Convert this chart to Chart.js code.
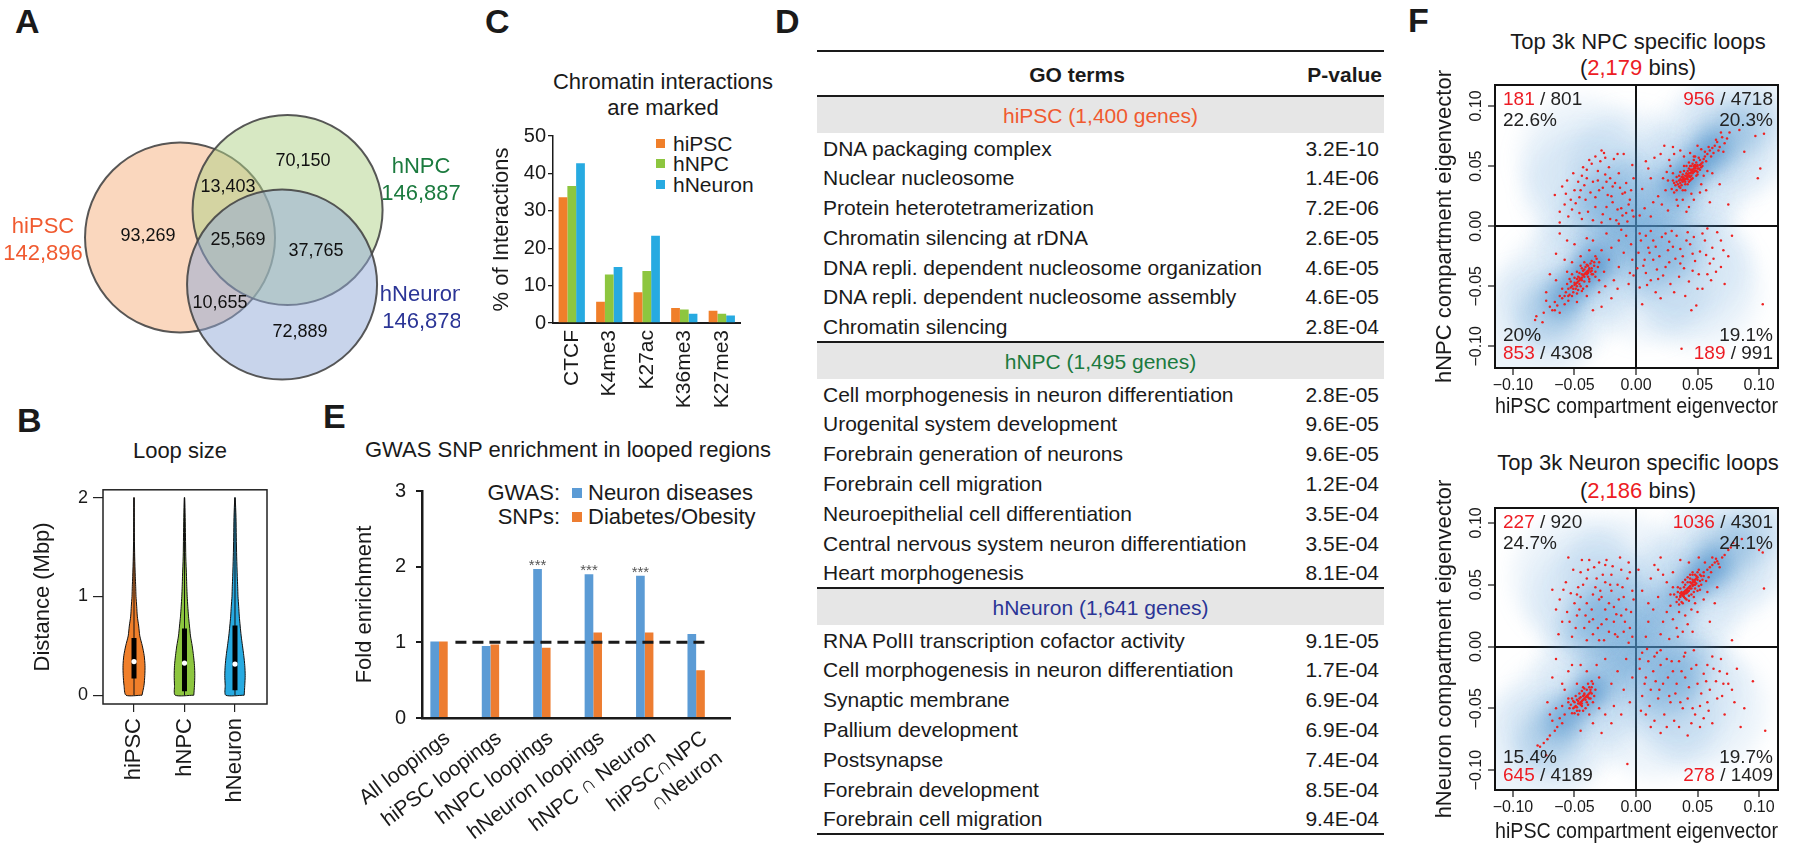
<!DOCTYPE html>
<html>
<head>
<meta charset="utf-8">
<script src="https://cdn.jsdelivr.net/npm/chart.js@4.4.1/dist/chart.umd.min.js"></script>
<style>
html,body{margin:0;padding:0;background:#fff;overflow:hidden;}
#root{position:relative;width:1800px;height:849px;font-family:'Liberation Sans',Arial,Helvetica,sans-serif;color:#1a1a1a;overflow:hidden;}
#root canvas{position:absolute;}
.tx{position:absolute;white-space:nowrap;}
.sq{position:absolute;}
#go{position:absolute;left:817px;top:50px;width:567px;font-size:21px;}
#go .rule{height:2px;background:#1a1a1a;}
#go .hdr{height:43px;position:relative;font-weight:bold;}
#go .hdr span{position:absolute;top:0;line-height:46px;}
#go .band{height:35.5px;line-height:37px;background:#e6e6e6;text-align:center;}
#go .row{height:29.8px;line-height:31px;display:flex;justify-content:space-between;padding:0 5px 0 6px;}
</style>
</head>
<body>
<div id="root"></div>
<script>
// ===================== DATA =====================
// A: Venn of chromatin loops
const vennSets = ['hiPSC', 'hNPC', 'hNeuron'];
const vennSetTotals = ['142,896', '146,887', '146,878'];
const vennRegionCounts = ['93,269', '70,150', '72,889', '13,403', '10,655', '37,765', '25,569'];
// regions: hiPSC only, hNPC only, hNeuron only, hiPSC&hNPC, hiPSC&hNeuron, hNPC&hNeuron, all three

// B: loop size violins (density read as half-width at each level)
const violinGroups = ['hiPSC', 'hNPC', 'hNeuron'];
const violinLevels = [0, 0.1, 0.2, 0.3, 0.4, 0.5, 0.6, 0.7, 0.8, 0.9, 1.0, 1.1, 1.2, 1.4, 1.6, 1.8, 2.0];
const densityHiPSC = [8, 10, 10.8, 11, 10.2, 8.3, 5.8, 4.7, 3.3, 2.7, 2.0, 1.7, 1.3, 0.7, 0.4, 0.3, 0.2];
const densityHNPC = [9.3, 10, 10.3, 10, 9, 7.7, 6, 5, 4, 3.3, 2.7, 2.3, 2.0, 1.3, 1.0, 0.7, 0.2];
const densityHNeuron = [9.2, 9.8, 10.2, 9.8, 8.8, 7.5, 6.2, 5.2, 4.3, 3.7, 3.0, 2.7, 2.3, 1.7, 1.3, 1.0, 0.2];
const loopQ1 = [0.17, 0.04, 0.05];
const loopMedian = [0.34, 0.325, 0.315];
const loopQ3 = [0.58, 0.675, 0.705];
const loopMin = [0, 0, 0];
const loopMax = [2, 2, 2];
const loopTicks = [0, 1, 2];

// C: % of interactions marked
const marks = ['CTCF', 'K4me3', 'K27ac', 'K36me3', 'K27me3'];
const pctHiPSC = [33.6, 5.7, 8.2, 4.0, 3.3];
const pctHNPC = [36.6, 13.0, 13.9, 3.6, 2.5];
const pctHNeuron = [42.7, 15.0, 23.3, 2.5, 2.0];

// D: GO terms
const goGroups = ['hiPSC (1,400 genes)', 'hNPC (1,495 genes)', 'hNeuron (1,641 genes)'];
const goTermsHiPSC = ['DNA packaging complex', 'Nuclear nucleosome', 'Protein heterotetramerization', 'Chromatin silencing at rDNA', 'DNA repli. dependent nucleosome organization', 'DNA repli. dependent nucleosome assembly', 'Chromatin silencing'];
const goPHiPSC = ['3.2E-10', '1.4E-06', '7.2E-06', '2.6E-05', '4.6E-05', '4.6E-05', '2.8E-04'];
const goTermsHNPC = ['Cell morphogenesis in neuron differentiation', 'Urogenital system development', 'Forebrain generation of neurons', 'Forebrain cell migration', 'Neuroepithelial cell differentiation', 'Central nervous system neuron differentiation', 'Heart morphogenesis'];
const goPHNPC = ['2.8E-05', '9.6E-05', '9.6E-05', '1.2E-04', '3.5E-04', '3.5E-04', '8.1E-04'];
const goTermsHNeuron = ['RNA PolII transcription cofactor activity', 'Cell morphogenesis in neuron differentiation', 'Synaptic membrane', 'Pallium development', 'Postsynapse', 'Forebrain development', 'Forebrain cell migration'];
const goPHNeuron = ['9.1E-05', '1.7E-04', '6.9E-04', '6.9E-04', '7.4E-04', '8.5E-04', '9.4E-04'];

// E: GWAS SNP fold enrichment
const loopSets = ['All loopings', 'hiPSC loopings', 'hNPC loopings', 'hNeuron loopings', 'hNPC \u2229 Neuron', ['hiPSC\u2229NPC', '\u2229Neuron']];
const neuronDiseaseFE = [1.01, 0.95, 1.97, 1.90, 1.88, 1.11];
const diabetesObesityFE = [1.01, 0.97, 0.93, 1.13, 1.13, 0.63];
const sigMarks = ['', '', '***', '***', '***', ''];
const baselineFE = 1;

// F: compartment eigenvectors (values x1000), quadrant order TL, TR, BL, BR
const eigenTicks = [-0.10, -0.05, 0, 0.05, 0.10];
const npcBins = '2,179';
const npcSpecific = [181, 956, 853, 189];
const npcTotal = [801, 4718, 4308, 991];
const npcPercent = ['22.6%', '20.3%', '20%', '19.1%'];
const neuronBins = '2,186';
const neuronSpecific = [227, 1036, 645, 278];
const neuronTotal = [920, 4301, 4189, 1409];
const neuronPercent = ['24.7%', '24.1%', '15.4%', '19.7%'];

const npcPoints = [
[36,36],[38,37],[40,39],[42,41],[44,44],[46,47],[48,49],[50,51],[43,48],[41,44],[39,40],[37,34],[35,38],[34,35],[37,41],[45,42],[47,45],[49,53],[51,48],[53,52],[44,50],[42,46],[40,35],[38,43],[46,52],[48,46],[52,55],[50,45],[36,32],[33,37],[39,46],[45,39],[47,55],[43,37],[41,50],[49,42],[54,50],[55,56],[35,42],[32,34],[44,47],[46,44],[42,43],[40,42],[48,51],[38,39],[50,48],[45,50],
[39,38],[41,40],[43,42],[45,45],[47,48],[49,50],[37,38],[36,39],[42,39],[44,41],[46,46],[48,48],[50,50],[52,51],[40,37],[38,41],[43,44],[45,47],[47,50],[41,42],
[33,30],[35,33],[31,36],[38,30],[42,35],[46,40],[50,43],[52,47],[54,53],[56,58],[51,57],[47,58],[43,53],[39,50],[36,45],[33,41],[30,38],[44,38],[49,46],[53,49],
[58,60],[60,63],[62,65],[64,67],[66,70],[68,66],[65,72],[70,74],[72,69],[61,58],[57,54],[59,66],[63,61],[67,63],[56,62],[53,64],[74,73],[76,78],[69,78],[71,62],
[30,44],[28,50],[26,38],[31,28],[33,22],[29,31],[25,45],[24,30],[22,40],[27,55],[20,60],[15,57],[12,40],[10,48],[18,25],[21,18],[26,13],[34,17],[38,22],[41,12],[45,27],[43,16],[47,22],[40,30],[53,35],[55,42],[58,46],[52,28],[57,30],[62,44],[48,58],[44,61],[39,58],[36,63],[31,60],[50,67],
[97,75],[104,77],[99,40],[101,48],[84,80],[75,18],[30,66],[23,67],[8,54],[5,31],[14,20],[7,15],[3,9],[12,8],[60,20],[68,35],[88,62],
[-28,63],[-26,61],[-57,27],[-66,26],[-43,49],[-35,37],[-24,37],[-14,44],[-19,33],[-11,27],[-49,19],[-41,22],[-33,24],[-46,11],[-24,16],[-8,11],[-16,5],[-35,5],[-51,44],[-38,55],[-22,49],[-3,51],[-5,22],[-30,30],[-40,40],[-20,25],[-12,15],[-27,10],[-55,8],[-62,3],[-45,30],[-8,36],[-2,8],[-18,56],[-31,46],[-10,60],
[-62,12],[-58,18],[-53,22],[-50,30],[-47,37],[-44,42],[-40,47],[-36,52],[-33,58],[-29,54],[-25,43],[-21,40],[-17,36],[-13,32],[-9,28],[-6,18],[-3,13],[-7,4],[-11,9],[-15,14],[-19,20],[-23,26],[-27,32],[-31,38],[-37,28],[-42,34],[-46,24],[-52,14],[-39,12],[-33,16],[-28,3],[-21,6],[-14,2],[-4,30],[-2,40],[-15,60],[-25,57],[-44,6],[-56,38],[-60,33],
[-40,-38],[-42,-40],[-38,-36],[-36,-35],[-44,-43],[-46,-45],[-48,-47],[-50,-49],[-52,-50],[-41,-34],[-39,-42],[-35,-40],[-43,-37],[-45,-50],[-47,-42],[-49,-52],[-53,-46],[-37,-31],[-34,-33],[-33,-38],[-44,-35],[-51,-55],[-55,-52],[-42,-46],[-46,-39],[-38,-44],[-36,-29],[-40,-32],[-48,-44],[-54,-57],[-57,-55],[-31,-34],[-39,-39],[-43,-52],[-50,-43],
[-41,-39],[-43,-41],[-45,-44],[-47,-46],[-49,-48],[-39,-37],[-37,-38],[-42,-42],[-44,-40],[-46,-48],[-48,-50],[-50,-47],[-40,-40],[-38,-35],[-44,-45],[-46,-43],[-51,-52],[-53,-51],[-42,-36],[-36,-37],
[-30,-30],[-32,-27],[-34,-30],[-36,-40],[-38,-46],[-40,-50],[-44,-54],[-48,-56],[-52,-58],[-55,-58],[-56,-48],[-54,-44],[-52,-40],[-48,-38],[-45,-33],[-42,-30],[-39,-33],[-33,-42],[-58,-58],[-47,-53],
[-60,-60],[-62,-58],[-64,-66],[-66,-63],[-68,-70],[-70,-67],[-73,-62],[-66,-70],[-81,-75],[-82,-78],[-75,-72],[-58,-65],[-62,-72],[-55,-62],[-60,-52],[-65,-45],[-65,-23],[-62,-6],[-56,-12],[-35,-70],[-28,-67],[-14,-34],[-5,-39],[-3,-28],[-24,-6],[-35,-12],[-14,-12],[-22,-28],[-28,-20],[-18,-45],[-25,-50],[-30,-55],[-20,-18],[-10,-22],[-8,-8],[-45,-25],[-52,-30],[-56,-38],[-58,-28],[-30,-45],[-26,-38],[-15,-52],[-2,-41],[-4,-15],[-12,-3],[-48,-63],[-40,-58],[-33,-25],[-38,-20],[-73,-55],[-76,-80],[-40,-10],[-50,-15],[-20,-60],[-6,-48],[-70,-40],
[3,-6],[14,-12],[24,-6],[30,-17],[41,-12],[46,-23],[54,-6],[14,-28],[24,-34],[8,-39],[35,-42],[46,-37],[60,-31],[69,-12],[3,-51],[19,-25],[38,-25],[10,-18],[28,-48],[50,-52],[54,-52],[49,-66],[103,-65],[37,-102],[69,-34],[62,-18],[33,-8],[7,-28],[18,-44],[42,-5],[58,-40],[26,-20],[12,-4],[75,-25],[5,-65],
[4,-12],[8,-8],[11,-22],[16,-17],[21,-9],[27,-13],[32,-27],[36,-19],[44,-15],[48,-29],[52,-21],[56,-12],[63,-27],[66,-5],[71,-20],[6,-33],[12,-45],[17,-36],[22,-41],[27,-30],[31,-55],[39,-35],[43,-46],[47,-9],[51,-40],[57,-24],[61,-45],[65,-38],[2,-22],[9,-49],[16,-55],[20,-60],[29,-4],[36,-31],[40,-58],[45,-70],[58,-2],[72,-48],[78,-8],[1,-35]
];
const neuronPoints = [
[38,43],[36,41],[40,45],[42,47],[44,49],[46,52],[48,54],[50,56],[52,53],[35,38],[37,36],[39,40],[41,43],[43,45],[45,47],[47,50],[49,51],[51,49],[53,57],[34,44],[36,47],[40,50],[42,52],[44,55],[46,58],[38,35],[48,47],[50,60],[54,54],[33,40],[39,48],[41,38],[45,42],[47,44],[52,46],[43,41],[46,49],[41,46],[49,57],[37,44],
[38,41],[40,43],[42,45],[44,47],[46,50],[48,52],[50,54],[36,40],[37,42],[39,44],[41,45],[43,48],[45,51],[47,53],[49,55],[39,42],[42,44],[44,52],[46,54],[48,50],
[33,36],[35,34],[31,42],[34,48],[38,52],[42,56],[46,60],[51,62],[55,57],[57,53],[53,50],[50,45],[47,40],[43,37],[40,39],[36,43],[44,58],[48,58],[40,54],[52,58],
[58,62],[60,64],[62,66],[64,68],[66,69],[65,71],[67,67],[70,72],[68,64],[72,74],[75,78],[77,80],[79,84],[82,82],[86,87],[62,72],[56,68],[55,60],[59,56],[61,60],
[30,48],[28,42],[25,52],[22,58],[18,62],[15,66],[12,55],[28,33],[25,28],[22,20],[30,22],[33,15],[35,28],[40,25],[42,18],[45,30],[48,35],[50,28],[55,38],[58,44],[18,40],[14,30],[10,20],[20,10],[27,6],[8,8],[34,8],[38,12],[46,12],[60,20],[64,35],[66,48],
[103,76],[104,47],[100,78],[78,5],[30,60],[20,72],[5,45],[2,62],[10,35],[51,72],[43,68],[36,70],
[-55,72],[-38,70],[-30,68],[-25,66],[-47,48],[-68,46],[-59,46],[-45,40],[-40,35],[-35,42],[-30,38],[-25,30],[-20,45],[-15,50],[-10,40],[-12,25],[-18,20],[-22,12],[-28,18],[-35,22],[-42,15],[-48,25],[-52,8],[-40,5],[-30,5],[-15,8],[-5,15],[-8,30],[-3,45],[-20,58],[-32,55],[-40,55],[-25,52],[-12,62],[-5,60],[-45,60],[-50,35],[-35,10],[-18,32],[-28,40],[-60,20],[-6,3],
[-65,30],[-62,38],[-57,52],[-53,43],[-49,15],[-46,30],[-43,50],[-39,62],[-36,30],[-33,48],[-31,15],[-27,58],[-24,22],[-22,35],[-19,65],[-17,10],[-14,38],[-11,48],[-9,20],[-7,55],[-4,28],[-2,38],[-6,68],[-13,72],[-21,50],[-26,5],[-34,64],[-38,20],[-44,70],[-51,62],[-56,28],[-63,10],[-41,25],[-29,45],[-16,26],[-3,8],[-10,12],[-48,42],[-54,20],[-24,70],
[-41,-41],[-39,-39],[-43,-43],[-45,-45],[-47,-46],[-49,-48],[-51,-50],[-37,-37],[-38,-42],[-42,-38],[-44,-48],[-46,-42],[-48,-52],[-50,-45],[-36,-33],[-40,-45],[-34,-40],[-44,-36],[-52,-54],[-53,-47],[-39,-30],[-36,-28],[-42,-34],[-47,-55],[-35,-45],
[-40,-40],[-42,-42],[-44,-44],[-46,-46],[-48,-49],[-38,-38],[-41,-43],[-43,-40],[-45,-47],[-47,-44],[-39,-41],[-42,-39],[-44,-46],[-50,-49],[-37,-35],
[-33,-35],[-35,-30],[-37,-42],[-39,-47],[-41,-50],[-43,-52],[-46,-52],[-50,-54],[-54,-50],[-55,-45],[-52,-42],[-49,-40],[-46,-38],[-43,-33],[-40,-35],[-36,-38],[-38,-33],[-45,-41],[-51,-44],[-48,-43],
[-58,-55],[-60,-62],[-62,-58],[-64,-65],[-66,-68],[-68,-60],[-70,-72],[-72,-75],[-75,-78],[-78,-81],[-80,-80],[-65,-50],[-70,-55],[-72,-45],[-68,-25],[-60,-30],[-55,-20],[-52,-15],[-65,-10],[-45,-15],[-40,-20],[-30,-25],[-25,-10],[-20,-30],[-15,-20],[-10,-35],[-5,-45],[-8,-10],[-30,-50],[-25,-55],[-20,-62],[-35,-62],[-28,-70],[-45,-68],[-55,-42],[-58,-35],[-32,-15],[-18,-48],[-12,-55],[-3,-25],[-48,-30],[-38,-55],[-60,-48],[-7,-95],[-73,-88],
[5,-5],[10,-12],[15,-8],[20,-15],[25,-10],[30,-20],[35,-12],[40,-25],[45,-18],[50,-30],[55,-22],[60,-35],[65,-28],[70,-40],[8,-25],[12,-35],[18,-42],[22,-30],[28,-45],[32,-38],[38,-50],[42,-42],[48,-55],[52,-48],[58,-15],[62,-8],[68,-20],[75,-30],[80,-45],[5,-40],[8,-55],[15,-60],[25,-65],[35,-65],[45,-62],[85,-65],[105,-68],[95,-28],[20,-3],[40,-5],[3,-18],[55,-58],
[3,-10],[7,-30],[11,-48],[14,-20],[17,-5],[19,-35],[23,-55],[26,-25],[29,-12],[33,-30],[36,-45],[39,-8],[43,-33],[46,-50],[49,-15],[53,-38],[57,-28],[59,-52],[63,-18],[66,-42],[69,-10],[72,-55],[74,-22],[78,-35],[82,-18],[12,-65],[20,-70],[31,-60],[42,-72],[52,-65],[62,-62],[4,-52],[27,-40],[47,-3],[58,-45],[16,-28],[37,-20],[71,-30],[88,-50],[9,-2]
];
// background density of all bins: [x, y, level] (level 1 faint, 2 medium, 3 dense)
const npcDensity = [
[-60,-55,1],[-30,-22,1],[0,0,1],[30,25,1],[60,60,1],[-40,30,1],[40,-30,1],[-85,-85,1],[85,82,1],[-45,55,1],[50,-50,1],[-5,45,1],[10,-45,1],
[-75,-76,2],[-62,-62,2],[-28,-25,2],[-15,-10,2],[0,-3,2],[15,15,2],[28,28,2],[62,64,2],[76,76,2],[-32,20,2],[32,-18,2],[-20,32,2],[18,-32,2],[95,88,2],
[-45,-43,3],[-38,-36,3],[-51,-50,3],[40,40,3],[47,48,3],[35,35,3],[55,57,3],[-32,-30,3],[65,67,3],[-60,-62,3]
];
const neuronDensity = [
[-60,-60,1],[-30,-25,1],[0,0,1],[30,30,1],[60,62,1],[-35,35,1],[35,-35,1],[-85,-85,1],[85,85,1],[-50,55,1],[55,-50,1],[-10,55,1],[15,-55,1],
[-75,-77,2],[-62,-62,2],[-25,-22,2],[-12,-8,2],[0,0,2],[15,15,2],[25,28,2],[62,66,2],[76,78,2],[-30,25,2],[30,-25,2],[-20,40,2],[25,-40,2],[-40,15,2],[40,-15,2],[95,92,2],
[-41,-41,3],[-48,-47,3],[-35,-34,3],[38,42,3],[47,52,3],[55,58,3],[65,68,3],[-60,-60,3]
];

// ===================== LAYOUT / STYLE =====================
const ink = '#1a1a1a';
const redTxt = '#ed1c24';
const colHiPSC = '#f07f2a', colHNPC = '#8dc63f', colHNeuron = '#27aae1';
const setTxtColors = ['#f05a30', '#1b7a3e', '#2b3596'];
const vennFills = ['rgba(245,175,125,0.5)', 'rgba(175,209,135,0.5)', 'rgba(145,169,215,0.5)'];
const vennUnitBox = {xMin: -1.895, xMax: 2.947, yMin: -1.711, yMax: 1.447};
const vennCanvasW = 460;
const vennCircleCenters = [[0, 0], [1.132, 0.289], [1.074, -0.495]];
const vennRegionAnchors = [[-0.337, 0.016], [1.295, 0.805], [1.263, -0.995], [0.505, 0.532], [0.421, -0.689], [1.432, -0.142], [0.611, -0.026]];
const vennSetLabelAnchors = [[-1.442, -0.032], [2.537, 0.595], [2.547, -0.742]];
const violinWidthPerDensity = 1 / 50.5;
const densityRadius = {1: 62, 2: 28, 3: 13};
const densityFill = {1: 'rgba(90,155,210,0.12)', 2: 'rgba(80,148,205,0.22)', 3: 'rgba(55,130,195,0.55)'};

Chart.defaults.font.family = "'Liberation Sans', Arial, Helvetica, sans-serif";
Chart.defaults.color = ink;

const root = document.getElementById('root');

function addText(str, x, cy, size, opts = {}) {
  const d = document.createElement('div');
  d.className = 'tx';
  d.style.fontSize = size + 'px';
  d.style.lineHeight = size + 'px';
  d.style.top = (cy - 0.49 * size) + 'px';
  if (opts.bold) d.style.fontWeight = 'bold';
  if (opts.color) d.style.color = opts.color;
  const a = opts.align || 'left';
  if (a === 'left') d.style.left = x + 'px';
  else if (a === 'right') d.style.right = (1800 - x) + 'px';
  else { d.style.left = x + 'px'; d.style.transform = 'translateX(-50%)'; }
  if (opts.html) d.innerHTML = str; else d.textContent = str;
  root.appendChild(d);
  return d;
}
function addSquare(x, cy, s, color) {
  const d = document.createElement('div');
  d.className = 'sq';
  d.style.left = x + 'px'; d.style.top = (cy - s / 2) + 'px';
  d.style.width = s + 'px'; d.style.height = s + 'px'; d.style.background = color;
  root.appendChild(d);
}
function mount(g) {
  const m = g.m || [10, 10, 10, 10];
  const yw = g.yw || 0, xh = g.xh || 0;
  const c = document.createElement('canvas');
  const W = Math.round((g.r - g.l) + yw + m[1] + m[3]);
  const H = Math.round((g.b - g.t) + xh + m[0] + m[2]);
  c.width = W; c.height = H; c.style.width = W + 'px'; c.style.height = H + 'px';
  c.style.left = (g.l - yw - m[3]) + 'px'; c.style.top = (g.t - m[0]) + 'px';
  root.appendChild(c);
  return {canvas: c, padding: {top: m[0], right: m[1], bottom: m[2], left: m[3]}, yw, xh};
}
const base = (g) => ({
  responsive: false, maintainAspectRatio: false, animation: false, events: [],
  layout: {padding: g.padding, autoPadding: false},
});

// ---- plugins ----
const framePlugin = {
  id: 'frame',
  afterDraw(chart, args, opts) {
    if (!opts || !opts.width) return;
    const {left, top, right, bottom} = chart.chartArea;
    const ctx = chart.ctx;
    ctx.save(); ctx.strokeStyle = opts.color || ink; ctx.lineWidth = opts.width;
    ctx.strokeRect(left, top, right - left, bottom - top); ctx.restore();
  }
};
const blurPlugin = {
  id: 'blurDs',
  beforeDatasetDraw(chart, args) {
    const ds = chart.data.datasets[args.index];
    if (ds.blur) { chart.ctx.save(); chart.ctx.filter = 'blur(' + ds.blur + 'px)'; }
  },
  afterDatasetDraw(chart, args) {
    const ds = chart.data.datasets[args.index];
    if (ds.blur) chart.ctx.restore();
  }
};
const vennTextPlugin = {
  id: 'vennText',
  afterDatasetsDraw(chart) {
    const ctx = chart.ctx, sx = chart.scales.x, sy = chart.scales.y;
    ctx.save(); ctx.textAlign = 'center'; ctx.textBaseline = 'middle';
    ctx.font = "18px 'Liberation Sans', Arial, sans-serif"; ctx.fillStyle = '#111';
    vennRegionCounts.forEach((t, i) => {
      ctx.fillText(t, sx.getPixelForValue(vennRegionAnchors[i][0]), sy.getPixelForValue(vennRegionAnchors[i][1]));
    });
    ctx.font = "22px 'Liberation Sans', Arial, sans-serif";
    vennSets.forEach((name, i) => {
      const x = sx.getPixelForValue(vennSetLabelAnchors[i][0]);
      const y = sy.getPixelForValue(vennSetLabelAnchors[i][1]);
      ctx.fillStyle = setTxtColors[i];
      ctx.fillText(name, x, y - 13.5);
      ctx.fillText(vennSetTotals[i], x, y + 13.5);
    });
    ctx.restore();
  }
};
const sigPlugin = {
  id: 'sigStars',
  afterDatasetsDraw(chart) {
    const ctx = chart.ctx, meta = chart.getDatasetMeta(0);
    ctx.save(); ctx.font = "15px 'Liberation Sans', Arial, sans-serif"; ctx.fillStyle = '#555';
    ctx.textAlign = 'center'; ctx.textBaseline = 'alphabetic';
    meta.data.forEach((bar, i) => { if (sigMarks[i]) ctx.fillText(sigMarks[i], bar.x, bar.y + 1); });
    ctx.restore();
  }
};
const cornerPlugin = {
  id: 'corners',
  afterDraw(chart, args, opts) {
    if (!opts || !opts.items) return;
    const {left, top, right, bottom} = chart.chartArea;
    const ctx = chart.ctx;
    ctx.save(); ctx.font = "19px 'Liberation Sans', Arial, sans-serif"; ctx.textBaseline = 'middle'; ctx.textAlign = 'left';
    const drawRich = (segs, x, y, alignRight) => {
      const w = segs.reduce((s, sg) => s + ctx.measureText(sg[0]).width, 0);
      let cx = alignRight ? x - w : x;
      segs.forEach(sg => { ctx.fillStyle = sg[1]; ctx.fillText(sg[0], cx, y); cx += ctx.measureText(sg[0]).width; });
    };
    opts.items.forEach(it => {
      const isRight = it.corner[1] === 'R', isTop = it.corner[0] === 'T';
      const x = isRight ? right - 5 : left + 8;
      const countLine = [[String(it.count), redTxt], [' / ' + it.total, '#222']];
      const pctLine = [[it.pct, '#222']];
      if (isTop) { drawRich(countLine, x, top + 15, isRight); drawRich(pctLine, x, top + 36, isRight); }
      else { drawRich(pctLine, x, bottom - 32, isRight); drawRich(countLine, x, bottom - 14, isRight); }
    });
    ctx.restore();
  }
};
// draws the y tick labels of a scale rotated by 90 degrees, centred on the ticks
const rotYTickPlugin = {
  id: 'rotYTicks',
  afterDraw(chart, args, opts) {
    if (!opts || !opts.offset) return;
    const s = chart.scales.y, ctx = chart.ctx;
    ctx.save(); ctx.font = opts.font; ctx.fillStyle = ink; ctx.textAlign = 'center'; ctx.textBaseline = 'middle';
    s.ticks.forEach(t => {
      const y = s.getPixelForValue(t.value);
      ctx.save(); ctx.translate(chart.chartArea.left - opts.offset, y); ctx.rotate(-Math.PI / 2);
      ctx.fillText(opts.format(t.value), 0, 0); ctx.restore();
    });
    ctx.restore();
  }
};

// ===================== PANEL LETTERS =====================
addText('A', 15, 20.5, 34, {bold: true});
addText('B', 17, 420, 34, {bold: true});
addText('C', 485, 20.5, 34, {bold: true});
addText('D', 775, 20.5, 34, {bold: true});
addText('E', 323, 416, 34, {bold: true});
addText('F', 1408, 19.5, 34, {bold: true});

// ===================== A: VENN =====================
(function () {
  const g = mount({l: 0, t: 100, r: vennCanvasW, b: 400, m: [0, 0, 0, 0]});
  const unitPx = vennCanvasW / (vennUnitBox.xMax - vennUnitBox.xMin);
  new Chart(g.canvas, {
    type: 'scatter',
    data: {datasets: vennSets.map((s, i) => ({
      label: s,
      data: [{x: vennCircleCenters[i][0], y: vennCircleCenters[i][1]}],
      pointRadius: unitPx, pointBackgroundColor: vennFills[i],
      pointBorderColor: 'rgba(70,70,70,0.9)', pointBorderWidth: 2,
      clip: false, order: 3 - i
    }))},
    options: Object.assign(base(g), {
      plugins: {legend: {display: false}, tooltip: {enabled: false}},
      scales: {
        x: {type: 'linear', display: false, min: vennUnitBox.xMin, max: vennUnitBox.xMax, bounds: 'data'},
        y: {type: 'linear', display: false, min: vennUnitBox.yMin, max: vennUnitBox.yMax, bounds: 'data'}
      }
    }),
    plugins: [vennTextPlugin]
  });
})();

// ===================== B: VIOLINS =====================
addText('Loop size', 180, 451, 22, {align: 'center'});
(function () {
  const g = mount({l: 103, t: 484, r: 267, b: 704, yw: 73, xh: 105});
  const dens = [densityHiPSC, densityHNPC, densityHNeuron];
  const fills = [colHiPSC, colHNPC, colHNeuron];
  const ds = [];
  dens.forEach((d, i) => {
    const right = violinLevels.map((lv, k) => ({x: i + d[k] * violinWidthPerDensity, y: lv}));
    const left = violinLevels.map((lv, k) => ({x: i - d[k] * violinWidthPerDensity, y: lv})).reverse();
    ds.push({data: right.concat(left, [right[0]]), showLine: true, fill: 'shape', tension: 0.25,
      backgroundColor: fills[i], borderColor: '#111', borderWidth: 1, pointRadius: 0, order: 4});
    ds.push({data: [{x: i, y: loopMin[i]}, {x: i, y: loopMax[i]}], showLine: true, borderColor: '#111', borderWidth: 1, pointRadius: 0, order: 3});
    ds.push({data: [{x: i, y: loopQ1[i]}, {x: i, y: loopQ3[i]}], showLine: true, borderColor: '#000', borderWidth: 5, borderCapStyle: 'butt', pointRadius: 0, order: 2});
  });
  ds.push({data: loopMedian.map((m, i) => ({x: i, y: m})), pointRadius: 2.6, pointBackgroundColor: '#fff', pointBorderWidth: 0, order: 1});
  new Chart(g.canvas, {
    type: 'scatter',
    data: {datasets: ds},
    options: Object.assign(base(g), {
      plugins: {legend: {display: false}, tooltip: {enabled: false}, frame: {width: 1.5, color: '#222'}},
      scales: {
        x: {type: 'linear', min: -0.614, max: 2.634, bounds: 'data',
          afterBuildTicks: s => { s.ticks = violinGroups.map((n, i) => ({value: i})); },
          ticks: {callback: v => violinGroups[v], minRotation: 90, maxRotation: 90, autoSkip: false, font: {size: 22}, padding: 6},
          grid: {drawOnChartArea: false, tickLength: 8, color: '#222', lineWidth: 1.2}, border: {display: false},
          afterFit: s => { s.height = g.xh; }},
        y: {type: 'linear', min: -0.089, max: 2.079, bounds: 'data',
          afterBuildTicks: s => { s.ticks = loopTicks.map(v => ({value: v})); },
          ticks: {font: {size: 18}, padding: 5},
          grid: {drawOnChartArea: false, tickLength: 10, color: '#222', lineWidth: 1.2}, border: {display: false},
          title: {display: true, text: 'Distance (Mbp)', font: {size: 22}, padding: 0},
          afterFit: s => { s.width = g.yw; }}
      }
    }),
    plugins: [framePlugin]
  });
})();

// ===================== C: MARKED INTERACTIONS =====================
addText('Chromatin interactions', 663, 82, 22, {align: 'center'});
addText('are marked', 663, 108, 22, {align: 'center'});
[['hiPSC', colHiPSC], ['hNPC', colHNPC], ['hNeuron', colHNeuron]].forEach((it, i) => {
  const cy = 143 + i * 20.5;
  addSquare(656, cy, 9, it[1]);
  addText(it[0], 673, cy, 21);
});
(function () {
  const g = mount({l: 553, t: 132, r: 745, b: 323, yw: 64, xh: 100, m: [10, 10, 5, 10]});
  new Chart(g.canvas, {
    type: 'bar',
    data: {labels: marks, datasets: [
      {label: 'hiPSC', data: pctHiPSC, backgroundColor: colHiPSC},
      {label: 'hNPC', data: pctHNPC, backgroundColor: colHNPC},
      {label: 'hNeuron', data: pctHNeuron, backgroundColor: colHNeuron}
    ]},
    options: Object.assign(base(g), {
      datasets: {bar: {categoryPercentage: 0.7, barPercentage: 1}},
      plugins: {legend: {display: false}, tooltip: {enabled: false}},
      scales: {
        x: {grid: {display: false, drawTicks: false}, border: {display: true, color: ink, width: 2},
          ticks: {autoSkip: false, minRotation: 90, maxRotation: 90, font: {size: 21}, padding: 7},
          afterFit: s => { s.height = g.xh; }},
        y: {min: 0, max: 50, bounds: 'data', ticks: {stepSize: 10, font: {size: 20}, padding: 2},
          grid: {drawOnChartArea: false, tickLength: 5, color: ink, lineWidth: 1.3}, border: {display: true, color: ink, width: 1.5},
          title: {display: true, text: '% of Interactions', font: {size: 22}, padding: 0},
          afterFit: s => { s.width = g.yw; }}
      }
    })
  });
})();

// ===================== D: GO TABLE =====================
(function () {
  const t = document.createElement('div'); t.id = 'go';
  let h = '<div class="rule"></div><div class="hdr"><span style="left:260px;transform:translateX(-50%)">GO terms</span><span style="right:2px">P-value</span></div>';
  const terms = [goTermsHiPSC, goTermsHNPC, goTermsHNeuron];
  const ps = [goPHiPSC, goPHNPC, goPHNeuron];
  goGroups.forEach((gname, gi) => {
    h += '<div class="rule"></div><div class="band" style="color:' + setTxtColors[gi] + '">' + gname + '</div>';
    terms[gi].forEach((term, k) => { h += '<div class="row"><span>' + term + '</span><span>' + ps[gi][k] + '</span></div>'; });
  });
  h += '<div class="rule"></div>';
  t.innerHTML = h;
  root.appendChild(t);
})();

// ===================== E: GWAS ENRICHMENT =====================
addText('GWAS SNP enrichment in looped regions', 568, 450, 22, {align: 'center'});
addText('GWAS:', 560, 493, 22, {align: 'right'});
addSquare(572, 493, 10, '#5b9bd5');
addText('Neuron diseases', 588, 493, 22);
addText('SNPs:', 560, 517, 22, {align: 'right'});
addSquare(572, 517, 10, '#ed7d31');
addText('Diabetes/Obesity', 588, 517, 22);
(function () {
  const g = mount({l: 422, t: 479, r: 734, b: 718, yw: 70, xh: 131, m: [10, 10, 0, 10]});
  new Chart(g.canvas, {
    type: 'bar',
    data: {labels: loopSets, datasets: [
      {label: 'Neuron diseases', data: neuronDiseaseFE, backgroundColor: '#5b9bd5', order: 1},
      {label: 'Diabetes/Obesity', data: diabetesObesityFE, backgroundColor: '#ed7d31', order: 1},
      {type: 'line', data: [{x: 0, y: baselineFE}, {x: 1, y: baselineFE}], xAxisID: 'x2',
        borderColor: ink, borderWidth: 3, borderDash: [11, 6], pointRadius: 0, fill: false, order: 0}
    ]},
    options: Object.assign(base(g), {
      datasets: {bar: {categoryPercentage: 0.675, barPercentage: 1}},
      plugins: {legend: {display: false}, tooltip: {enabled: false}},
      scales: {
        x: {grid: {display: false, drawTicks: false}, border: {display: true, color: ink, width: 2.5},
          ticks: {autoSkip: false, minRotation: 37, maxRotation: 37, font: {size: 21}, padding: 8},
          afterFit: s => { s.height = g.xh; }},
        x2: {type: 'linear', display: false, min: -0.045, max: 1, bounds: 'data'},
        y: {min: 0, max: 3, bounds: 'data', ticks: {stepSize: 1, font: {size: 20}, padding: 10},
          grid: {drawOnChartArea: false, tickLength: 6, color: ink, lineWidth: 2}, border: {display: true, color: ink, width: 2.5},
          title: {display: true, text: 'Fold enrichment', font: {size: 22}, padding: 0},
          afterFit: s => { s.width = g.yw; }}
      }
    }),
    plugins: [sigPlugin]
  });
})();

// ===================== F: EIGENVECTOR SCATTERS =====================
function eigenPanel(geom, pts, dens, yMin, yMax, yTitle, spec, tot, pct) {
  const g = mount(geom);
  const tickFmt = v => (v < 0 ? '\u2212' : '') + Math.abs(v).toFixed(2);
  const zeroGrid = c => (c.tick && Math.abs(c.tick.value) < 1e-9) ? '#111' : 'rgba(0,0,0,0)';
  const items = ['TL', 'TR', 'BL', 'BR'].map((c, i) => ({corner: c, count: spec[i], total: tot[i], pct: pct[i]}));
  const fixTicks = s => { s.ticks = eigenTicks.map(v => ({value: v})); };
  new Chart(g.canvas, {
    type: 'scatter',
    data: {datasets: [
      {type: 'bubble', data: dens.map(d => ({x: d[0] / 1000, y: d[1] / 1000, lvl: d[2]})),
        radius: c => (c.raw ? densityRadius[c.raw.lvl] : 0),
        backgroundColor: c => (c.raw ? densityFill[c.raw.lvl] : 'rgba(0,0,0,0)'),
        borderWidth: 0, blur: 10, clip: 0, order: 2},
      {data: pts.map(p => ({x: p[0] / 1000, y: p[1] / 1000})), pointRadius: 1.25,
        pointBackgroundColor: '#ee2222', pointBorderWidth: 0, clip: 0, order: 1}
    ]},
    options: Object.assign(base(g), {
      plugins: {legend: {display: false}, tooltip: {enabled: false}, frame: {width: 2, color: '#111'}, corners: {items},
        rotYTicks: {offset: 18, font: "16px 'Liberation Sans', Arial, sans-serif", format: tickFmt}},
      scales: {
        x: {type: 'linear', min: -0.1146, max: 0.1154, bounds: 'data', z: 1, afterBuildTicks: fixTicks,
          ticks: {autoSkip: false, maxRotation: 0, callback: tickFmt, font: {size: 16}, padding: 1},
          grid: {color: zeroGrid, lineWidth: 2, tickColor: '#111', tickWidth: 1.2, tickLength: 7}, border: {display: false},
          title: {display: true, text: 'hiPSC compartment eigenvector', font: {size: 22}, padding: 0},
          afterFit: s => { s.height = g.xh; }},
        y: {type: 'linear', min: yMin, max: yMax, bounds: 'data', z: 1, afterBuildTicks: fixTicks,
          ticks: {autoSkip: false, callback: tickFmt, font: {size: 16}, color: 'rgba(0,0,0,0)'},
          grid: {color: zeroGrid, lineWidth: 2, tickColor: '#111', tickWidth: 1.2, tickLength: 7}, border: {display: false},
          title: {display: true, text: yTitle, font: {size: 22}, padding: 0},
          afterFit: s => { s.width = g.yw; }}
      }
    }),
    plugins: [blurPlugin, framePlugin, cornerPlugin, rotYTickPlugin]
  });
}
addText('Top 3k NPC specific loops', 1638, 42, 22, {align: 'center'});
addText('(<span style="color:' + redTxt + '">' + npcBins + '</span> bins)', 1638, 68, 22, {align: 'center', html: true});
eigenPanel({l: 1495, t: 85, r: 1778, b: 368, yw: 63, xh: 52, m: [30, 8, 8, 8]}, npcPoints, npcDensity, -0.118, 0.1175,
  'hNPC compartment eigenvector', npcSpecific, npcTotal, npcPercent);
addText('Top 3k Neuron specific loops', 1638, 463, 22, {align: 'center'});
addText('(<span style="color:' + redTxt + '">' + neuronBins + '</span> bins)', 1638, 491, 22, {align: 'center', html: true});
eigenPanel({l: 1495, t: 508, r: 1778, b: 790, yw: 63, xh: 55, m: [40, 8, 3, 8]}, neuronPoints, neuronDensity, -0.116, 0.112,
  'hNeuron compartment eigenvector', neuronSpecific, neuronTotal, neuronPercent);
</script>
</body>
</html>
